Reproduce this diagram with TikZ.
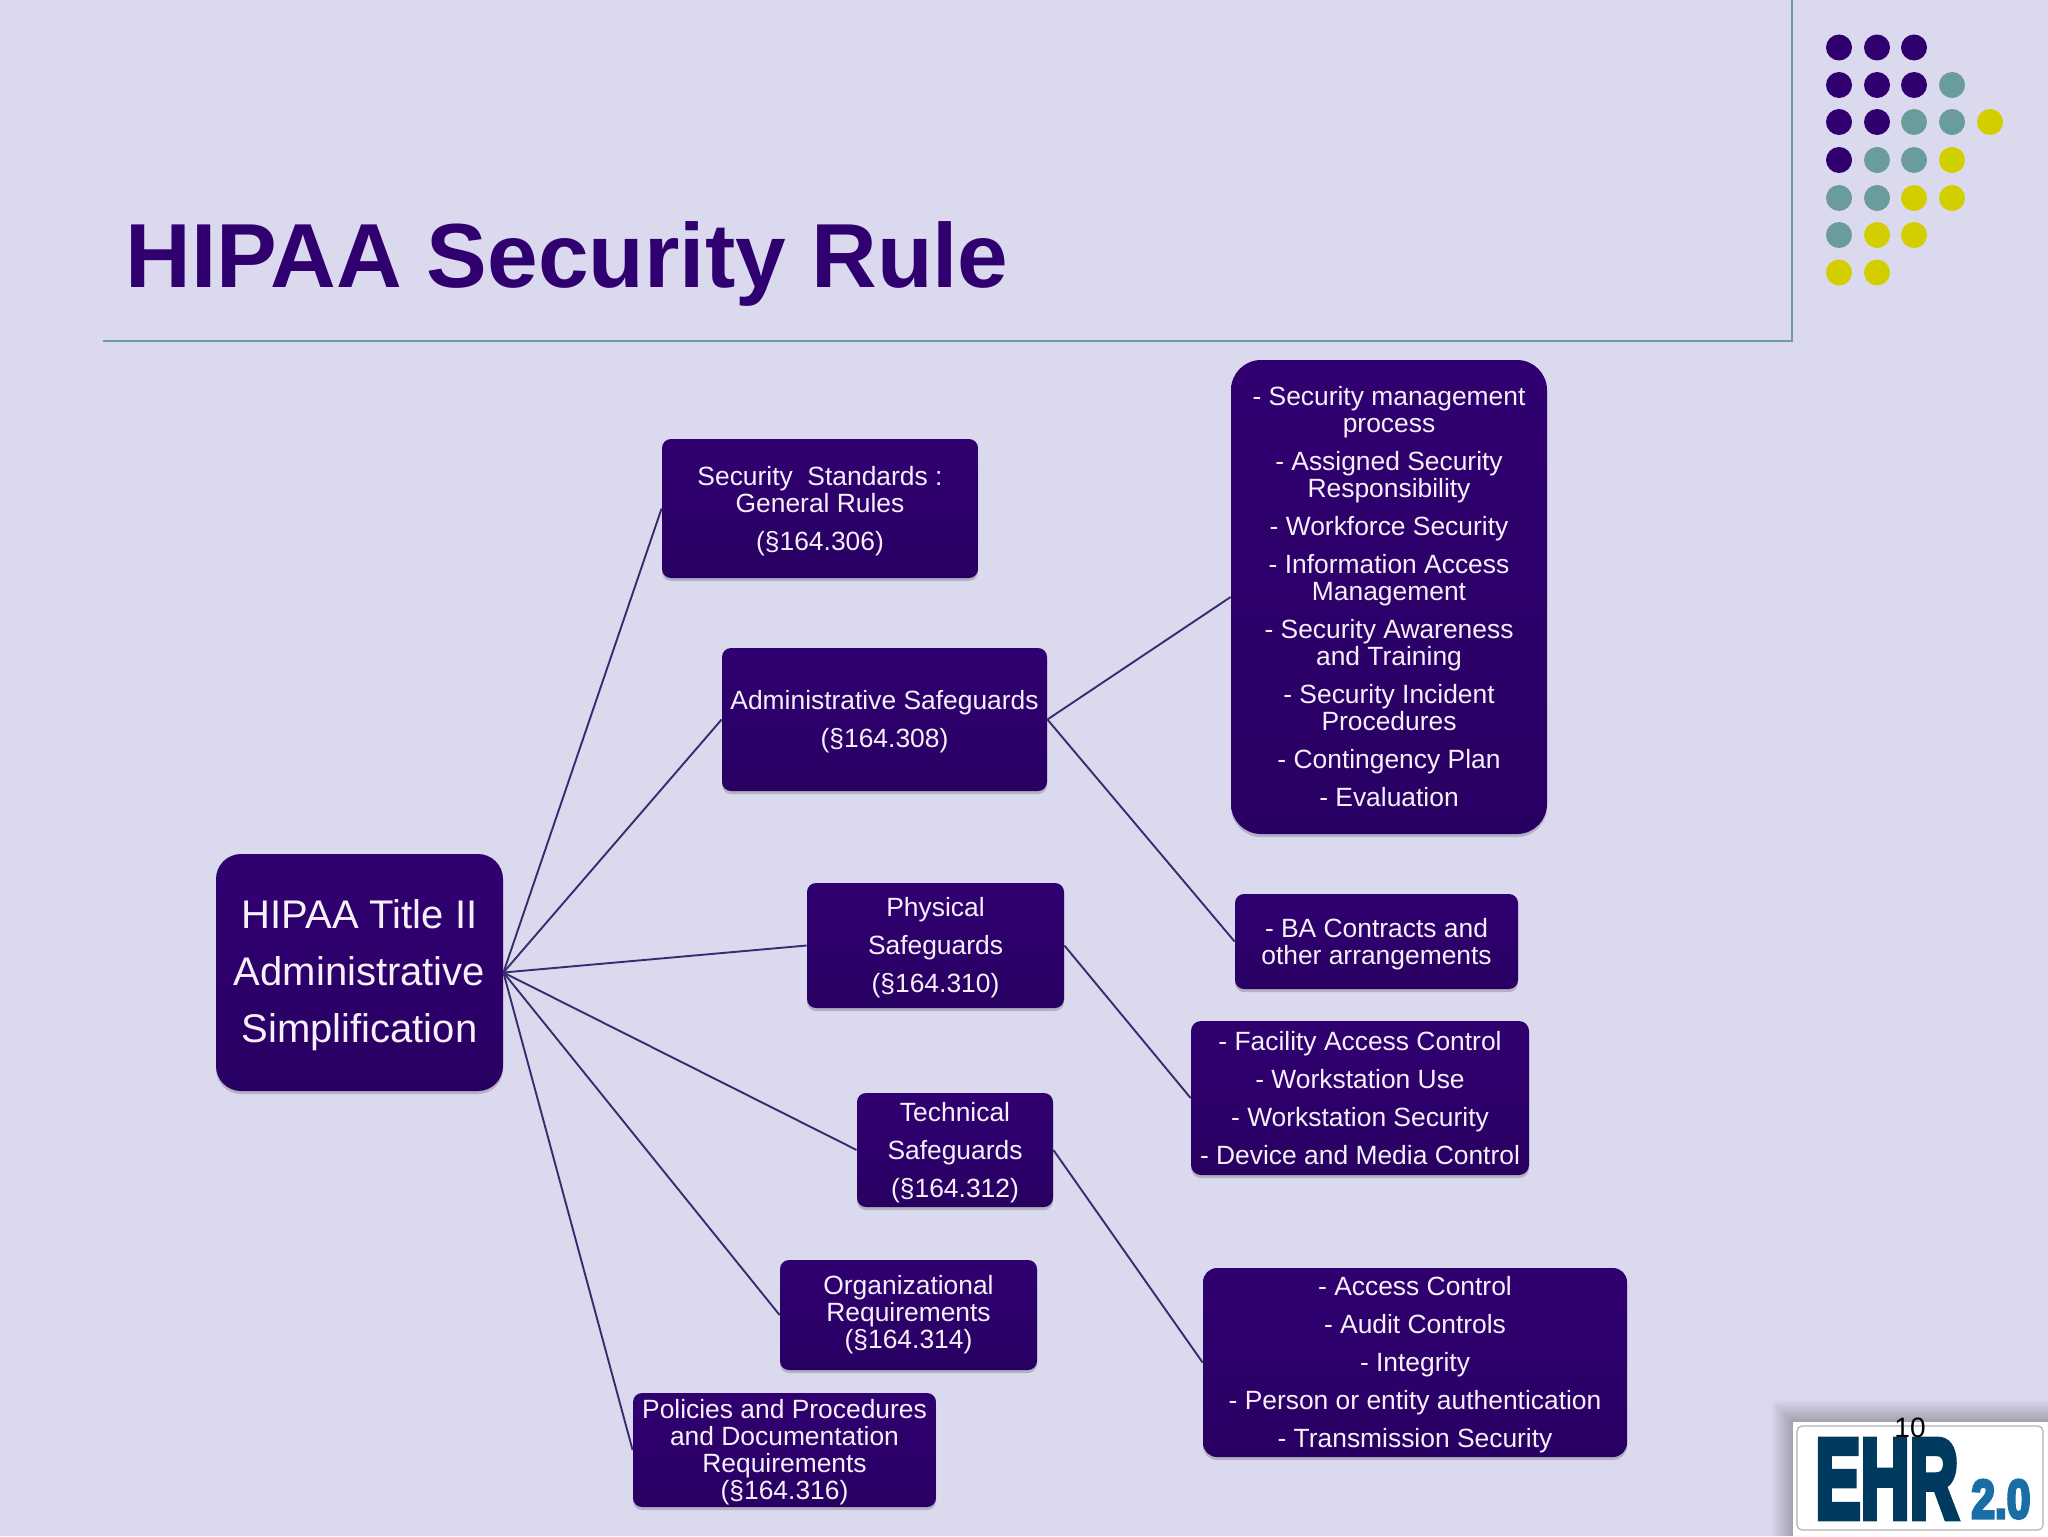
\documentclass[tikz,border=0pt]{standalone}
\usepackage{fontspec}
\setmainfont{Liberation Sans}
\newfontfamily\logofont[FakeBold=6]{Liberation Sans Bold}
\usetikzlibrary{shadows}
\definecolor{bgc}{HTML}{DBD9EE}
\definecolor{purp}{HTML}{300070}
\definecolor{purpd}{HTML}{280062}
\definecolor{tealc}{HTML}{6B9C9C}
\definecolor{yelc}{HTML}{D2CE00}
\definecolor{linec}{HTML}{3A2A70}
\definecolor{txtc}{HTML}{F6F0FA}
\definecolor{logod}{HTML}{003A5E}
\definecolor{logob}{HTML}{1A6EA6}
\tikzset{
  hbox/.style={top color=purp,bottom color=purpd,middle color=purp!60!purpd,text=txtc,align=center,inner sep=0pt,
    drop shadow={shadow xshift=0pt,shadow yshift=-1.5pt,opacity=.18,fill=black},
    font=\fontsize{13.2}{13.5}\selectfont},
  conn/.style={draw=linec,line width=0.95pt},
  rulec/.style={draw=tealc,line width=0.9pt},
  dotc/.style={circle,inner sep=0pt,minimum size=13pt},
  dp/.style={dotc,fill=purp},
  dt/.style={dotc,fill=tealc},
  dy/.style={dotc,fill=yelc},
}
\newcommand{\dbox}[7][]{%
  \pgfmathsetmacro{\bcx}{(#3+#5)/2}\pgfmathsetmacro{\bcy}{(#4+#6)/2}%
  \pgfmathsetmacro{\bw}{(#5-#3)/2}\pgfmathsetmacro{\bh}{(#6-#4)/2}%
  \node[hbox,minimum width=\bw pt,minimum height=\bh pt,#1] (#2) at (\bcx,\bcy) {#7};}
\newcommand{\pg}{\\[5.5pt]}
\newcommand{\vs}{\rule{0pt}{12pt}}
\begin{document}
\begin{tikzpicture}[x=0.5pt,y=-0.5pt]
\useasboundingbox (0,0) rectangle (2048,1536);
\fill[bgc] (0,0) rectangle (2048,1536);
% title and rules
\node[anchor=base west,inner sep=0pt,text=purp,font=\fontsize{45.5}{50}\selectfont\bfseries] (title) at (125,287) {HIPAA Security Rule};
\coordinate (ruleL) at (103,341);
\coordinate (ruleC) at (1792,341);
\coordinate (ruleT) at (1792,0);
\draw[rulec] (ruleL) -- (ruleC) -- (ruleT);
% dots
\foreach \n/\x/\y/\s in {
 a1/1839/47.5/dp,a2/1877/47.5/dp,a3/1914/47.5/dp,
 b1/1839/85/dp,b2/1877/85/dp,b3/1914/85/dp,b4/1952/85/dt,
 c1/1839/122/dp,c2/1877/122/dp,c3/1914/122/dt,c4/1952/122/dt,c5/1990/122/dy,
 d1/1839/160/dp,d2/1877/160/dt,d3/1914/160/dt,d4/1952/160/dy,
 e1/1839/198/dt,e2/1877/198/dt,e3/1914/198/dy,e4/1952/198/dy,
 f1/1839/235/dt,f2/1877/235/dy,f3/1914/235/dy,
 g1/1839/272.5/dy,g2/1877/272.5/dy}
 \node[\s] (dot\n) at (\x,\y) {};
% boxes
\dbox[rounded corners=12.5pt,font=\fontsize{20}{28.5}\selectfont]{root}{216}{854}{503}{1091}{\rule{0pt}{17pt}HIPAA Title II\\Administrative\\Simplification}
\dbox[rounded corners=4.5pt]{ss}{662}{439}{978}{578}{\vs Security\ \ Standards :\\General Rules\pg(§164.306)}
\dbox[rounded corners=4.5pt]{as}{722}{648}{1047}{791}{\vs Administrative Safeguards\pg(§164.308)}
\dbox[rounded corners=4.5pt]{ps}{807}{883}{1064}{1008}{\vs Physical\pg Safeguards\pg(§164.310)}
\dbox[rounded corners=4.5pt]{ts}{857}{1093}{1053}{1207}{\vs Technical\pg Safeguards\pg(§164.312)}
\dbox[rounded corners=4.5pt]{or}{780}{1260}{1037}{1370}{Organizational\\Requirements\\(§164.314)}
\dbox[rounded corners=4.5pt]{po}{633}{1393}{936}{1507}{\vs Policies and Procedures\\and Documentation\\Requirements\\(§164.316)}
\dbox[rounded corners=15pt]{al}{1231}{360}{1547}{834}{- Security management\\process\pg - Assigned Security\\Responsibility\pg - Workforce Security\pg - Information Access\\Management\pg - Security Awareness\\and Training\pg - Security Incident\\Procedures\pg - Contingency Plan\pg - Evaluation}
\dbox[rounded corners=4.5pt]{ba}{1235}{894}{1518}{989}{\vs - BA Contracts and\\other arrangements}
\dbox[rounded corners=5pt]{pl}{1191}{1021}{1529}{1175}{- Facility Access Control\pg - Workstation Use\pg - Workstation Security\pg - Device and Media Control}
\dbox[rounded corners=7pt]{tl}{1203}{1268}{1627}{1457}{\vs - Access Control\pg - Audit Controls\pg - Integrity\pg - Person or entity authentication\pg - Transmission Security}
% connectors
\foreach \t in {ss,as,ps,ts,or,po} \draw[conn] (root.east) -- (\t.west);
\draw[conn] (as.east) -- (al.west);
\draw[conn] (as.east) -- (ba.west);
\draw[conn] (ps.east) -- (pl.west);
\draw[conn] (ts.east) -- (tl.west);
% logo
\foreach \d in {1,3,...,21}
  \fill[black,opacity=.022] (1793-\d,1422-\d) rectangle (2048,1536);
\node[fill=white,inner sep=0pt,minimum width=127.5pt,minimum height=57pt] (logo) at (1920.5,1479) {};
\draw[draw=black!30,line width=0.6pt,rounded corners=2.5pt] (1797,1426) rectangle (2043,1530);
\node[anchor=base west,inner sep=0pt,text=logod] (ehr) at (1815,1518) {\resizebox{71.5pt}{39pt}{\logofont EHR}};
\node[anchor=base west,inner sep=0pt,text=logob] (ver) at (1971,1518) {\resizebox{29.5pt}{19pt}{\logofont 2.0}};
\node[inner sep=0pt,text=black,font=\fontsize{14}{16}\selectfont] (pnum) at (1910,1428) {10};
\end{tikzpicture}
\end{document}
